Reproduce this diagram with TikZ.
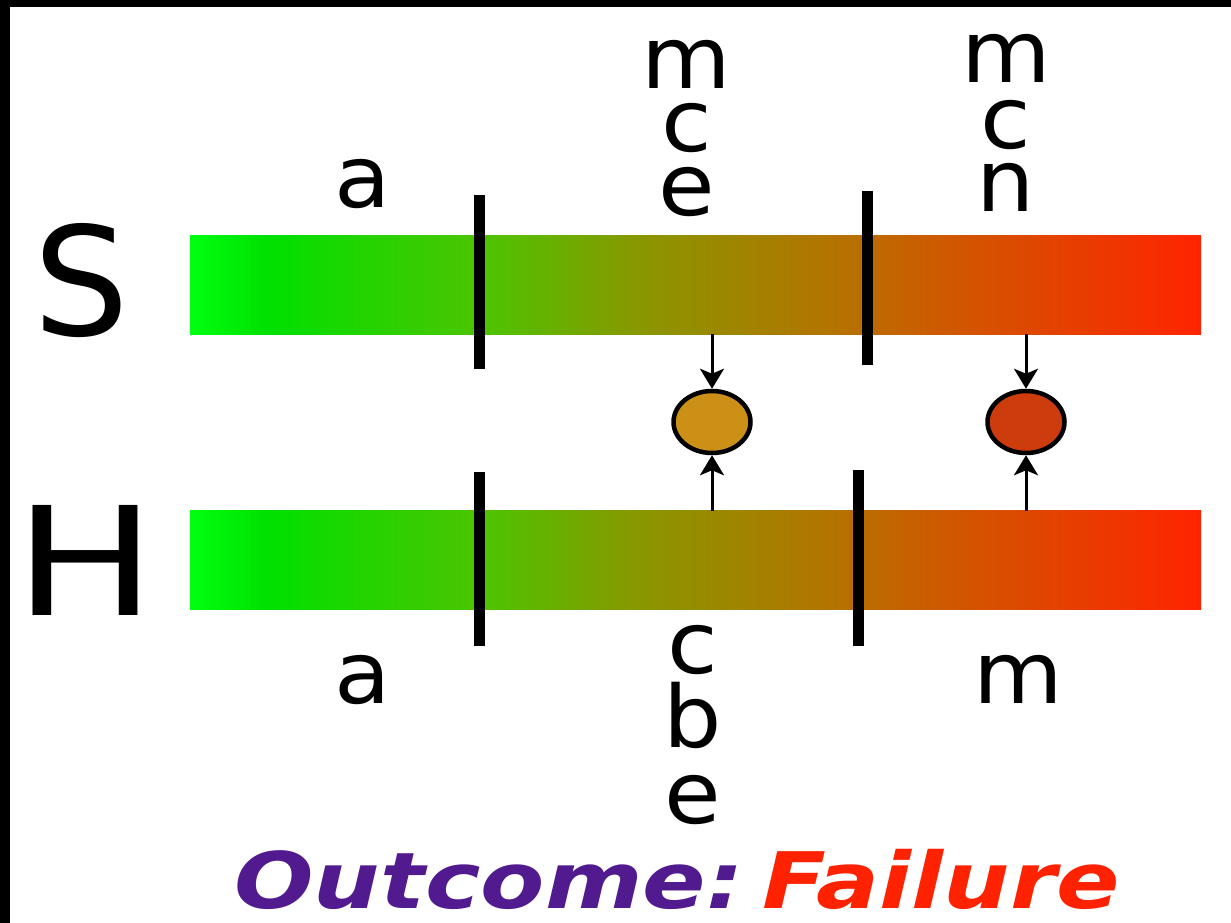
\documentclass[tikz,border=0pt]{standalone}
\usepackage{fontspec}
\setmainfont{DejaVu Sans}
\usetikzlibrary{shapes.geometric,arrows.meta}
\definecolor{outpurple}{RGB}{82,26,143}
\definecolor{outred}{RGB}{255,34,0}
\definecolor{ballA}{RGB}{204,144,22}
\definecolor{ballB}{RGB}{204,60,12}
\pgfdeclarehorizontalshading{barshade}{100bp}{%
  rgb(0bp)=(0,1,0.06);
  rgb(25bp)=(0,1,0.06);
  rgb(28.75bp)=(0,0.88,0);
  rgb(39.35bp)=(0.30,0.77,0);
  rgb(47.3bp)=(0.54,0.59,0);
  rgb(57.7bp)=(0.72,0.44,0);
  rgb(60.5bp)=(0.78,0.38,0);
  rgb(75bp)=(1,0.14,0);
  rgb(100bp)=(1,0.14,0)}
\tikzset{
  bar/.style={rectangle, draw=none, shading=barshade, minimum width=1011pt, minimum height=99pt, inner sep=0pt},
  divider/.style={line width=11pt},
  ball/.style={ellipse, draw=black, line width=4.5pt, minimum width=77pt, minimum height=62pt, inner sep=0pt},
  arr/.style={line width=3pt, -{Stealth[length=20pt,width=24pt,inset=5pt]}},
  letter/.style={font=\fontsize{86}{86}\selectfont, inner sep=0pt, anchor=base, text height=48pt, text depth=0pt},
  big/.style={font=\fontsize{151}{151}\selectfont, inner sep=0pt, anchor=base},
}
\newcommand{\wl}[1]{\scalebox{1.07}[1]{#1}}
\begin{document}
\begin{tikzpicture}[x=1pt,y=-1pt]
\useasboundingbox (0,0) rectangle (1231,923);
\fill[white] (0,0) rectangle (1231,923);
\fill[black] (0,0) rectangle (10,923);
\fill[black] (0,0) rectangle (1231,7);

% bars
\node[bar] (Sbar) at (695.5,285) {};
\node[bar] (Hbar) at (695.5,560) {};

% dividers
\coordinate (sd1t) at (479,195); \coordinate (sd1b) at (479,369);
\coordinate (sd2t) at (867,191); \coordinate (sd2b) at (867,365);
\coordinate (hd1t) at (479,472); \coordinate (hd1b) at (479,646);
\coordinate (hd2t) at (858,470); \coordinate (hd2b) at (858,646);
\draw[divider] (sd1t) -- (sd1b);
\draw[divider] (sd2t) -- (sd2b);
\draw[divider] (hd1t) -- (hd1b);
\draw[divider] (hd2t) -- (hd2b);

% balls
\node[ball, fill=ballA] (b1) at (712,422) {};
\node[ball, fill=ballB] (b2) at (1026,422) {};

\coordinate (s1) at (712,334); \coordinate (h1) at (712,511);
\coordinate (s2) at (1026,334); \coordinate (h2) at (1026,511);
\draw[arr] (s1) -- (b1.north);
\draw[arr] (h1) -- (b1.south);
\draw[arr] (s2) -- (b2.north);
\draw[arr] (h2) -- (b2.south);

% side labels
\node[big] (S) at (81,335) {S};
\node[big] (H) at (85,615) {\scalebox{1.25}[1]{H}};

% top labels
\node[letter] (ta) at (363,207) {\wl{a}};
\node[letter] (tm1) at (686,89) {\wl{m}};
\node[letter] (tc1) at (687,152) {\wl{c}};
\node[letter] (te1) at (687,215) {\wl{e}};
\node[letter] (tm2) at (1006,83) {\wl{m}};
\node[letter] (tc2) at (1006,148) {\wl{c}};
\node[letter] (tn2) at (1006,211) {\wl{n}};

% bottom labels
\node[letter] (ba) at (363,703) {\wl{a}};
\node[letter] (bc) at (693,673) {\wl{c}};
\node[letter, text height=64pt] (bb) at (693,747) {\wl{b}};
\node[letter] (be) at (693,823) {\wl{e}};
\node[letter] (bm) at (1018,703) {\wl{m}};

% outcome
\node[inner sep=0pt, anchor=base, text depth=0pt, font=\fontsize{78}{78}\selectfont\bfseries\itshape] (out) at (677,908)
  {\scalebox{1.2}[1]{\textcolor{outpurple}{Outcome:}\hspace{16pt}\textcolor{outred}{Failure}}};
\end{tikzpicture}
\end{document}
